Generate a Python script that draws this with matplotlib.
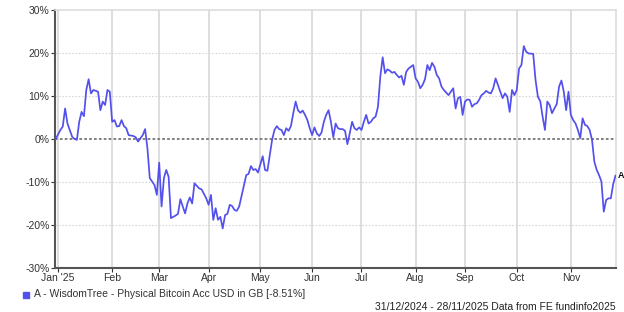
import matplotlib
matplotlib.use("Agg")
import matplotlib.pyplot as plt
import pandas as pd
import numpy as np

plt.rcParams['font.family'] = ['Liberation Sans', 'DejaVu Sans']

dates = [
 "2024-12-31","2025-01-02","2025-01-03","2025-01-06","2025-01-07","2025-01-09","2025-01-10","2025-01-13",
 "2025-01-14","2025-01-15","2025-01-16","2025-01-17","2025-01-20","2025-01-21","2025-01-22","2025-01-23",
 "2025-01-24","2025-01-27","2025-01-28","2025-01-29","2025-01-30","2025-01-31",
 "2025-02-03","2025-02-04","2025-02-05","2025-02-06","2025-02-07","2025-02-10","2025-02-11","2025-02-12",
 "2025-02-14","2025-02-17","2025-02-18","2025-02-20","2025-02-21","2025-02-24","2025-02-25","2025-02-26",
 "2025-02-27","2025-02-28",
 "2025-03-03","2025-03-04","2025-03-05","2025-03-06","2025-03-07","2025-03-10","2025-03-12","2025-03-13",
 "2025-03-14","2025-03-18","2025-03-19","2025-03-20","2025-03-21","2025-03-24","2025-03-26","2025-03-27",
 "2025-03-31",
 "2025-04-01","2025-04-02","2025-04-03","2025-04-04","2025-04-07","2025-04-08","2025-04-09","2025-04-10",
 "2025-04-11","2025-04-14","2025-04-15","2025-04-16","2025-04-17","2025-04-18","2025-04-23","2025-04-24",
 "2025-04-25","2025-04-28","2025-04-29","2025-04-30",
 "2025-05-02","2025-05-05","2025-05-06","2025-05-08","2025-05-09","2025-05-12","2025-05-13","2025-05-14",
 "2025-05-15","2025-05-16","2025-05-19","2025-05-20","2025-05-21","2025-05-22","2025-05-23","2025-05-26",
 "2025-05-27","2025-05-28","2025-05-29","2025-05-30",
 "2025-06-02","2025-06-03","2025-06-04","2025-06-05","2025-06-06","2025-06-09","2025-06-10","2025-06-11",
 "2025-06-12","2025-06-13","2025-06-16","2025-06-17","2025-06-18","2025-06-19","2025-06-20","2025-06-23",
 "2025-06-24","2025-06-25","2025-06-26","2025-06-27","2025-06-30",
 "2025-07-01","2025-07-02","2025-07-03","2025-07-04","2025-07-07","2025-07-08","2025-07-09","2025-07-10",
 "2025-07-11","2025-07-14","2025-07-15","2025-07-16","2025-07-17","2025-07-18","2025-07-21","2025-07-22",
 "2025-07-23","2025-07-24","2025-07-25","2025-07-28","2025-07-29","2025-07-30","2025-07-31",
 "2025-08-01","2025-08-04","2025-08-05","2025-08-06","2025-08-07","2025-08-08","2025-08-11","2025-08-12",
 "2025-08-13","2025-08-14","2025-08-15","2025-08-18","2025-08-19","2025-08-20","2025-08-21","2025-08-22",
 "2025-08-25","2025-08-26","2025-08-27","2025-08-28","2025-08-29",
 "2025-09-01","2025-09-02","2025-09-03","2025-09-04","2025-09-05","2025-09-08","2025-09-09","2025-09-10",
 "2025-09-11","2025-09-12","2025-09-15","2025-09-16","2025-09-17","2025-09-18","2025-09-19","2025-09-22",
 "2025-09-23","2025-09-24","2025-09-25","2025-09-26","2025-09-29","2025-09-30",
 "2025-10-01","2025-10-02","2025-10-03","2025-10-06","2025-10-07","2025-10-08","2025-10-10","2025-10-13",
 "2025-10-14","2025-10-15","2025-10-16","2025-10-17","2025-10-20","2025-10-21","2025-10-22","2025-10-23",
 "2025-10-24","2025-10-27","2025-10-28","2025-10-29","2025-10-30","2025-10-31",
 "2025-11-03","2025-11-04","2025-11-05","2025-11-06","2025-11-07","2025-11-10","2025-11-11","2025-11-12",
 "2025-11-13","2025-11-14","2025-11-17","2025-11-18","2025-11-19","2025-11-20","2025-11-21","2025-11-24",
 "2025-11-25","2025-11-26","2025-11-27","2025-11-28",
]

values = [
 0.0, 2.1, 2.9, 7.1, 3.6, 0.5, 0.0, -0.2,
 4.0, 6.3, 5.3, 11.4, 13.9, 10.6, 11.4, 11.2,
 11.0, 6.7, 8.7, 7.9, 11.4, 11.0,
 4.0, 4.4, 2.9, 3.0, 4.4, 3.0, 2.5, 0.9,
 0.7, 0.4, -0.6, 0.9, 2.3, -2.2, -9.1, -9.9,
 -10.7, -13.0,
 -5.5, -15.7, -9.1, -7.2, -8.8, -18.4, -17.8, -17.4,
 -14.0, -17.3, -15.0, -13.6, -15.0, -10.3, -11.5, -11.7,
 -13.8,
 -15.3, -13.0, -18.8, -16.1, -18.8, -18.1, -20.8, -17.7,
 -17.4, -15.3, -15.6, -16.5, -16.7, -15.7, -8.4, -8.1,
 -6.3, -7.2, -7.0, -7.8,
 -4.0, -7.2, -7.4, -0.2, 2.1, 3.0, 2.3, 2.1,
 0.9, 2.5, 1.9, 3.0, 6.0, 8.7, 6.7, 6.1,
 6.6, 5.6, 4.4, 2.5,
 0.9, 2.7, 1.3, 0.7, 1.5, 4.0, 5.6, 6.7,
 4.0, 0.4, 3.6, 2.5, 2.3, 2.3, 1.9, -1.2,
 1.3, 4.0, 2.5, 2.1, 2.7,
 2.1, 4.0, 5.6, 3.6, 4.0, 4.8, 5.2, 7.5,
 14.5, 19.0, 15.3, 16.2, 15.9, 15.4, 15.6, 14.9,
 14.3, 14.7, 12.6, 15.6, 16.4, 16.8, 17.2,
 14.1, 13.3, 11.8, 12.6, 13.9, 17.2, 16.0, 17.7,
 16.8, 14.9, 14.1, 12.2, 11.4, 10.8, 10.2, 11.0,
 11.8, 7.1, 9.5, 9.8, 5.6,
 8.7, 9.2, 9.1, 7.5, 8.1, 8.3, 9.1, 10.2,
 10.6, 11.2, 10.8, 10.6, 11.8, 14.1, 12.6, 11.0,
 9.5, 10.6, 9.8, 6.3, 11.4, 10.2,
 11.4, 16.4, 17.2, 21.6, 20.3, 19.9, 19.8, 13.7,
 9.8, 8.8, 5.2, 2.1, 8.7, 7.9, 6.0, 7.1,
 8.1, 12.2, 13.6, 11.0, 6.7, 11.0,
 5.6, 4.4, 3.6, 2.1, 0.2, 4.8, 3.3, 3.0,
 2.1, -0.2, -5.3, -7.2, -8.4, -9.9, -16.9, -14.2,
 -13.8, -13.8, -10.5, -8.51,
]

month_labels = ["Jan '25", "Feb", "Mar", "Apr", "May", "Jun", "Jul", "Aug", "Sep", "Oct", "Nov"]
y_ticks = [-30, -20, -10, 0, 10, 20, 30]
series_name = "A - WisdomTree - Physical Bitcoin Acc USD in GB [-8.51%]"
footer = "31/12/2024 - 28/11/2025 Data from FE fundinfo2025"

# trading-day axis
bdays = pd.bdate_range("2024-12-31", "2025-11-28")
pos = bdays.get_indexer(pd.to_datetime(dates))
month_first = bdays.to_series().groupby([bdays.year, bdays.month]).first()
month_first = month_first[month_first.index.map(lambda t: t[0] == 2025)]
tick_pos = bdays.get_indexer(pd.DatetimeIndex(month_first.values))

line_color = "#5350ee"

fig = plt.figure(figsize=(6.24, 3.12), dpi=100)
ax = fig.add_axes([55/624, 1-268/312, (616-55)/624, (268-10)/312])

ax.set_xlim(-0.3, 238.2)
ax.set_ylim(-30, 30)

# grid
for t in tick_pos:
    ax.axvline(t, color="#dedede", lw=1.4, zorder=0)
for yv in y_ticks:
    if yv == 0:
        ax.axhline(0, color="#777777", lw=1.3, ls=(0, (1.5, 1.2)), zorder=1)
    elif abs(yv) != 30:
        ax.axhline(yv, color="#d6d6d6", lw=0.8, ls=(0, (1.5, 1.5)), zorder=0)

ax.plot(pos, values, color=line_color, lw=1.25, zorder=3)

ax.text(pos[-1] + 1.0, values[-1], "A", fontsize=6.5, fontweight="bold",
        ha="left", va="center", color="#111111", clip_on=False)

ax.set_xticks(tick_pos)
ax.set_xticklabels(month_labels)
ax.set_yticks(y_ticks)
ax.set_yticklabels([f"{v}%" for v in y_ticks])
ax.tick_params(axis="both", labelsize=7.5, colors="#333333", length=3, width=0.8, pad=1)
ax.tick_params(axis="x", pad=0.5)

for s in ["top", "right"]:
    ax.spines[s].set_color("#dddddd")
    ax.spines[s].set_linewidth(1.2)
for s in ["left", "bottom"]:
    ax.spines[s].set_color("#555555")
    ax.spines[s].set_linewidth(1.5)

# legend
fig.patches.append(plt.Rectangle((23/624, 1-298/312), 6/624, 6/312, transform=fig.transFigure,
                                 color=line_color, figure=fig))
fig.text(34/624, 1-294/312, series_name, fontsize=7.5, color="#333333", va="center", ha="left")
fig.text(616/624, 1-307/312, footer, fontsize=7.5, color="#222222", va="center", ha="right")

fig.savefig("out.png", dpi=100)
